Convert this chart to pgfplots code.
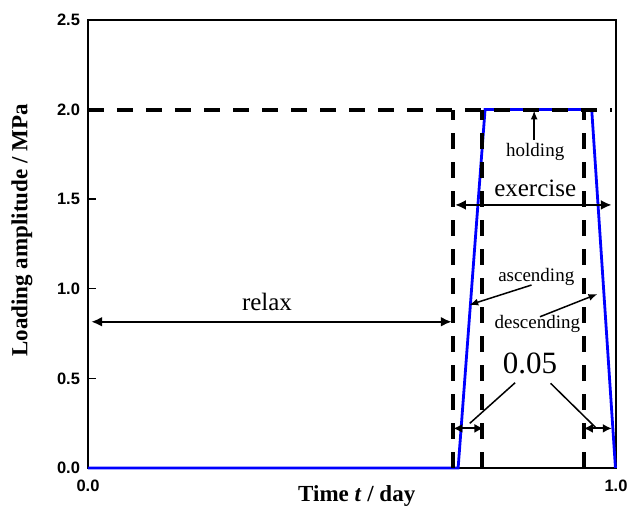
\documentclass[border=0pt]{standalone}
\usepackage{fontspec}
\setmainfont{Liberation Serif}
\newfontfamily\ticksf{Liberation Sans}
\usepackage{pgfplots}
\pgfplotsset{compat=1.18}
\usetikzlibrary{arrows.meta}
\begin{document}
\begin{tikzpicture}
\useasboundingbox (-88pt,-40pt) rectangle (541pt,468pt);
\begin{axis}[
  scale only axis, width=528pt, height=448pt,
  xmin=0, xmax=1, ymin=0, ymax=2.5,
  axis line style={line width=1.4pt},
  tick style={line width=1.4pt, black},
  tick align=inside, major tick length=8pt,
  xtick pos=bottom, ytick pos=left,
  xtick={0,1}, ytick={0,0.5,1,1.5,2,2.5},
  /pgf/number format/assume math mode=true,
  /pgf/number format/fixed, /pgf/number format/fixed zerofill, /pgf/number format/precision=1,
  every tick label/.append style={font=\ticksf\bfseries\fontsize{16.5}{20}\selectfont},
  every y tick label/.append style={xshift=-4.5pt},
  every x tick label/.append style={yshift=-8pt},
  xlabel={\textbf{Time \textit{t} / day}},
  ylabel={\textbf{Loading amplitude / MPa}},
  label style={font=\fontsize{23}{27}\selectfont},
  xlabel style={at={(axis description cs:0.509,-0.0625)}, anchor=center},
  ylabel style={at={(axis description cs:-0.125,0.530)}, anchor=center},
  clip=false,
]
\addplot[blue, line width=2.8pt] coordinates {(0,0) (0.701,0) (0.752,2) (0.954,2) (0.999,0)};
\addplot[black, line width=4pt, dash pattern=on 16pt off 13pt] coordinates {(0,2) (0.992,2)};
\addplot[black, line width=4pt, dash pattern=on 16pt off 13pt] coordinates {(0.692,0) (0.692,2)};
\addplot[black, line width=4pt, dash pattern=on 16pt off 13pt] coordinates {(0.747,0) (0.747,2)};
\addplot[black, line width=4pt, dash pattern=on 16pt off 13pt] coordinates {(0.940,0) (0.940,2)};

\node[font=\fontsize{25}{30}\selectfont, anchor=base] at (axis cs:0.339,0.88) {relax};
\draw[{Latex[length=11pt,width=10pt]}-{Latex[length=11pt,width=10pt]}, line width=2.2pt] (axis cs:0.006,0.816) -- (axis cs:0.689,0.816);

\node[font=\fontsize{25}{30}\selectfont, anchor=base] at (axis cs:0.847,1.514) {exercise};
\draw[{Latex[length=11pt,width=10pt]}-{Latex[length=11pt,width=10pt]}, line width=2.2pt] (axis cs:0.695,1.468) -- (axis cs:0.992,1.468);

\node[font=\fontsize{19}{23}\selectfont, anchor=base] at (axis cs:0.847,1.737) {holding};
\draw[-{Latex[length=9pt,width=7pt]}, line width=1.5pt] (axis cs:0.845,1.83) -- (axis cs:0.845,1.995);

\node[font=\fontsize{19}{23}\selectfont, anchor=base] at (axis cs:0.849,1.04) {ascending};
\draw[-{Latex[length=9pt,width=7pt]}, line width=1.5pt] (axis cs:0.840,1.021) -- (axis cs:0.722,0.91);

\node[font=\fontsize{19}{23}\selectfont, anchor=base] at (axis cs:0.851,0.78) {descending};
\draw[-{Latex[length=9pt,width=7pt]}, line width=1.5pt] (axis cs:0.856,0.844) -- (axis cs:0.965,0.971);

\node[font=\fontsize{31}{36}\selectfont, anchor=base] at (axis cs:0.837,0.528) {0.05};
\draw[line width=1.5pt] (axis cs:0.809,0.476) -- (axis cs:0.723,0.249);
\draw[line width=1.5pt] (axis cs:0.876,0.473) -- (axis cs:0.961,0.227);

\draw[{Latex[length=9pt,width=9pt]}-{Latex[length=9pt,width=9pt]}, line width=2pt] (axis cs:0.692,0.221) -- (axis cs:0.749,0.221);
\draw[{Latex[length=9pt,width=9pt]}-{Latex[length=9pt,width=9pt]}, line width=2pt] (axis cs:0.939,0.221) -- (axis cs:0.992,0.221);
\end{axis}
\end{tikzpicture}
\end{document}
